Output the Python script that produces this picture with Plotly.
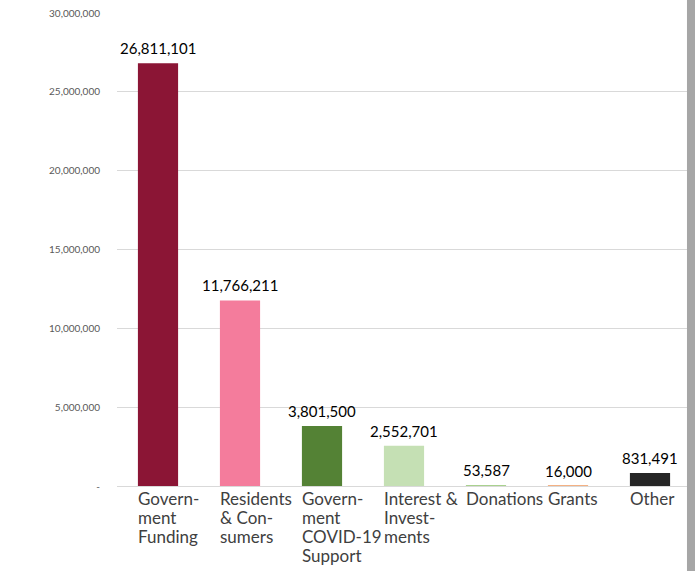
import plotly.graph_objects as go

categories = ["Government Funding", "Residents & Consumers", "Government COVID-19 Support",
              "Interest & Investments", "Donations", "Grants", "Other"]
axis_labels = [["Govern-", "ment", "Funding"], ["Residents", "& Con-", "sumers"],
               ["Govern-", "ment", "COVID-19", "Support"], ["Interest &", "Invest-", "ments"],
               ["Donations"], ["Grants"], ["Other"]]
values = [26811101, 11766211, 3801500, 2552701, 53587, 16000, 831491]
colors = ["#8B1535", "#F47C9C", "#548235", "#C5E0B4", "#A9D18E", "#F4B183", "#262626"]
y_ticks = [0, 5000000, 10000000, 15000000, 20000000, 25000000, 30000000]
y_ticktext = ["-", "5,000,000", "10,000,000", "15,000,000", "20,000,000", "25,000,000", "30,000,000"]

FONT = "Lato, Liberation Sans, sans-serif"

fig = go.Figure()
fig.add_trace(go.Bar(
    x=categories, y=values,
    marker=dict(color=colors, line=dict(width=0)),
    cliponaxis=False,
    hoverinfo="skip",
))

# value labels above bars
for c, v in zip(categories, values):
    fig.add_annotation(
        x=c, y=v, xref="x", yref="y",
        text=f"{v:,}", showarrow=False,
        xanchor="center", yanchor="bottom", yshift=4,
        font=dict(family=FONT, size=15, color="#000000"),
    )

# category labels (wrapped, left aligned)
for c, lines in zip(categories, axis_labels):
    for k, line in enumerate(lines):
        fig.add_annotation(
            x=c, y=0, xref="x", yref="y",
            text=line, showarrow=False,
            xanchor="left", yanchor="middle", align="left",
            xshift=-22, yshift=-12 - 19 * k,
            font=dict(family=FONT, size=17, color="#404040"),
        )

# right-edge shadow
fig.add_shape(type="rect", xref="paper", yref="paper", x0=0.993, x1=1.02, y0=-0.2, y1=1.03,
              fillcolor="#A6A6A6", line=dict(width=0), layer="above")

fig.update_layout(
    width=695, height=571,
    margin=dict(l=117, r=4, t=13, b=85),
    paper_bgcolor="white", plot_bgcolor="white",
    bargap=0.51,
    showlegend=False,
    xaxis=dict(showticklabels=False, showgrid=False, showline=False, zeroline=False,
               range=[-0.5, 6.5]),
    yaxis=dict(range=[0, 30000000], tickvals=y_ticks, ticktext=y_ticktext,
               showgrid=True, gridcolor="#D9D9D9", gridwidth=1,
               zeroline=True, zerolinecolor="#D9D9D9", zerolinewidth=1,
               ticks="outside", ticklen=14, tickcolor="white",
               tickfont=dict(family=FONT, size=10, color="#595959")),
)

fig.write_html("out.html")
